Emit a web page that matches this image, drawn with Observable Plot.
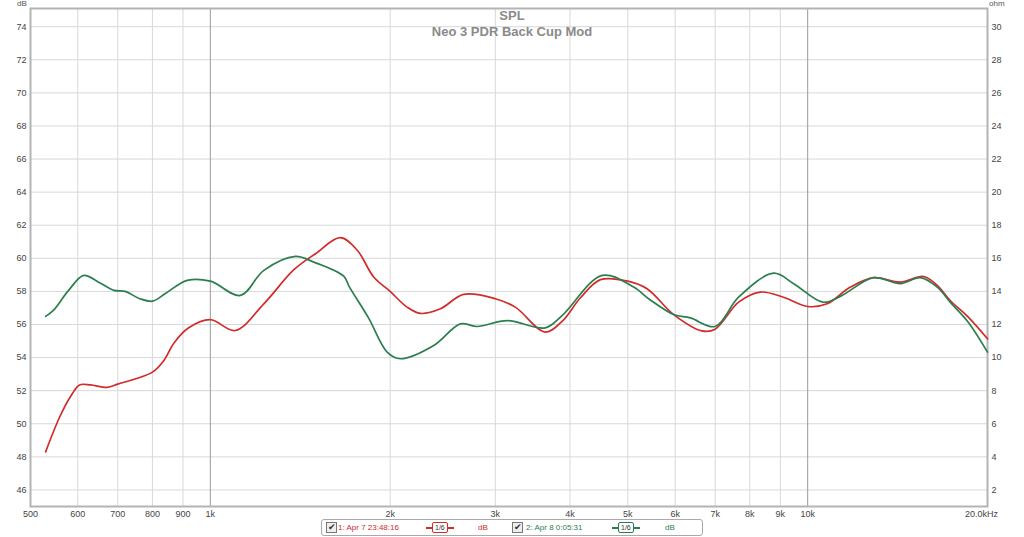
<!DOCTYPE html>
<html>
<head>
<meta charset="utf-8">
<script src="https://cdn.jsdelivr.net/npm/d3@7"></script>
<script src="https://cdn.jsdelivr.net/npm/@observablehq/plot@0.6"></script>
<style>
  html, body { margin: 0; padding: 0; background: #fff; }
  #wrap { position: relative; width: 1024px; height: 537px; overflow: hidden; font-family: "Liberation Sans", Arial, sans-serif; }
  #wrap svg { position: absolute; left: 0; top: 0; }
  .ov { position: absolute; white-space: nowrap; }
  .title { font-weight: bold; font-size: 13px; color: #8a8a8a; text-align: center; width: 300px; left: 362px; }
  .unit { font-size: 8px; color: #555; line-height: 8px; }
  #legend { position: absolute; left: 321px; top: 519px; width: 380px; height: 15px; border: 1px solid #aaa; border-radius: 3px; background: #fff; font-size: 8px; }
  .cb { position: absolute; top: 2px; width: 9px; height: 9px; border: 1px solid #777; background: #eee; font-size: 9px; line-height: 9px; text-align: center; color: #333; }
  .sm { position: absolute; top: 2px; height: 9px; border: 1.5px solid; border-radius: 2px; font-size: 7px; line-height: 9px; padding: 0 2px; }
  .dash { position: absolute; top: 7px; height: 1.5px; }
  .lt { position: absolute; top: 3px; }
</style>
</head>
<body>
<div id="wrap"></div>
<script>
// ---- data ----
const redFreq = [530, 561, 587, 604, 630, 672, 700, 750, 800, 835, 870, 920, 1000, 1101, 1229, 1380, 1500, 1651, 1762, 1877, 2000, 2135, 2247, 2428, 2655, 3000, 3240, 3637, 3883, 4162, 4499, 5000, 5384, 5966, 6650, 7000, 7662, 8334, 9108, 10000, 10777, 11789, 12892, 14290, 15634, 16480, 17320, 18570, 20000];
const redDb   = [48.3, 50.5, 51.8, 52.35, 52.35, 52.2, 52.4, 52.72, 53.12, 53.8, 54.9, 55.8, 56.29, 55.64, 57.25, 59.31, 60.28, 61.25, 60.49, 58.87, 58.0, 57.05, 56.67, 56.95, 57.82, 57.56, 57.05, 55.54, 56.2, 57.6, 58.71, 58.62, 58.16, 56.6, 55.62, 55.72, 57.35, 57.96, 57.65, 57.09, 57.25, 58.26, 58.83, 58.56, 58.9, 58.36, 57.45, 56.45, 55.14];

const greenFreq = [530, 546, 579, 614, 650, 690, 720, 762, 800, 840, 915, 1000, 1123, 1229, 1388, 1490, 1672, 1710, 1840, 1977, 2080, 2366, 2622, 2796, 3139, 3637, 3883, 4531, 5112, 5444, 5966, 6362, 7000, 7662, 8770, 9475, 10600, 11340, 12892, 14290, 15430, 16480, 17320, 18570, 20000];
const greenDb   = [56.49, 56.85, 58.06, 58.97, 58.56, 58.06, 58.0, 57.56, 57.41, 57.86, 58.67, 58.62, 57.76, 59.27, 60.12, 59.77, 58.92, 58.26, 56.4, 54.33, 53.93, 54.73, 56.04, 55.88, 56.24, 55.8, 56.55, 58.97, 58.26, 57.5, 56.6, 56.4, 55.88, 57.65, 59.1, 58.47, 57.35, 57.7, 58.83, 58.47, 58.83, 58.26, 57.35, 56.14, 54.33];

const yTicks = [46, 48, 50, 52, 54, 56, 58, 60, 62, 64, 66, 68, 70, 72, 74];
const xTicks = [500, 600, 700, 800, 900, 1000, 2000, 3000, 4000, 5000, 6000, 7000, 8000, 9000, 10000];
const xTickLabels = ["500", "600", "700", "800", "900", "1k", "2k", "3k", "4k", "5k", "6k", "7k", "8k", "9k", "10k"];
const xEndTick = [20000];
const xEndLabel = ["20.0kHz"];
const minorGridX = [600, 700, 800, 900, 2000, 3000, 4000, 5000, 6000, 7000, 8000, 9000];
const majorGridX = [1000, 10000];
const ohmOffset = 44;

const seriesNames = ["1: Apr 7 23:48:16", "2: Apr 8 0:05:31"];
const seriesColors = ["#d12b2b", "#2b7f4e"];
const titleLines = ["SPL", "Neo 3 PDR Back Cup Mod"];

// ---- build rows ----
const rows = [
  ...redFreq.map((f, i) => ({f, v: redDb[i], s: seriesNames[0]})),
  ...greenFreq.map((f, i) => ({f, v: greenDb[i], s: seriesNames[1]}))
];
const xLabelRows = xTicks.map((t, i) => ({t, label: xTickLabels[i]}));
const xEndRows = xEndTick.map((t, i) => ({t, label: xEndLabel[i]}));

const chart = Plot.plot({
  width: 1024,
  height: 537,
  marginLeft: 30,
  marginRight: 37,
  marginTop: 8,
  marginBottom: 31,
  style: { fontFamily: "Liberation Sans, Arial, sans-serif", fontSize: "9px", color: "#444", background: "transparent" },
  x: { type: "log", domain: [500, 20000], axis: null },
  y: { domain: [45, 75.1], axis: null },
  color: { domain: seriesNames, range: seriesColors },
  marks: [
    Plot.gridY(yTicks, { stroke: "#d8d8d8", strokeOpacity: 1, strokeWidth: 1 }),
    Plot.gridX(minorGridX, { stroke: "#d8d8d8", strokeOpacity: 1, strokeWidth: 1 }),
    Plot.gridX(majorGridX, { stroke: "#9a9a9a", strokeOpacity: 1, strokeWidth: 1 }),
    Plot.frame({ stroke: "#b4b4b4", strokeWidth: 2 }),
    Plot.axisY(yTicks, { anchor: "left", tickSize: 0, tickPadding: 4, label: null, fill: "#444" }),
    Plot.axisY(yTicks, { anchor: "right", tickSize: 0, tickPadding: 4, label: null, tickFormat: d => String(d - ohmOffset), fill: "#444" }),
    Plot.text(xLabelRows, { x: "t", text: "label", frameAnchor: "bottom", lineAnchor: "middle", dy: 8, fill: "#444", fontSize: 9 }),
    Plot.text(xEndRows, { x: "t", text: "label", frameAnchor: "bottom", lineAnchor: "middle", dy: 8, dx: -6, fill: "#444", fontSize: 9 }),
    Plot.line(rows, { x: "f", y: "v", stroke: "s", z: "s", strokeWidth: 1.7, curve: "catmull-rom" })
  ]
});
const wrap = document.getElementById("wrap");
wrap.appendChild(chart);

// ---- overlays: title, unit labels, legend ----
function add(html, cls, style) {
  const d = document.createElement("div");
  d.className = "ov " + cls;
  Object.assign(d.style, style);
  d.textContent = html;
  wrap.appendChild(d);
  return d;
}
add(titleLines[0], "title", { top: "8px" });
add(titleLines[1], "title", { top: "24px" });
add("dB", "unit", { left: "17px", top: "0px" });
add("ohm", "unit", { left: "989px", top: "0px" });

const lg = document.createElement("div");
lg.id = "legend";
const items = [
  { cb: 4, name: 16, dash: 104, box: 110, db: 156 },
  { cb: 190, name: 204, dash: 290, box: 296, db: 343 }
];
items.forEach((p, i) => {
  const c = seriesColors[i];
  lg.insertAdjacentHTML("beforeend",
    `<div class="cb" style="left:${p.cb}px">✔</div>` +
    `<div class="lt" style="left:${p.name}px;color:${c}">${seriesNames[i]}</div>` +
    `<div class="dash" style="left:${p.dash}px;width:28px;background:${c}"></div>` +
    `<div class="sm" style="left:${p.box}px;border-color:${c};color:#333;background:#fff">1/6</div>` +
    `<div class="lt" style="left:${p.db}px;color:${c}">dB</div>`);
});
wrap.appendChild(lg);
</script>
</body>
</html>
